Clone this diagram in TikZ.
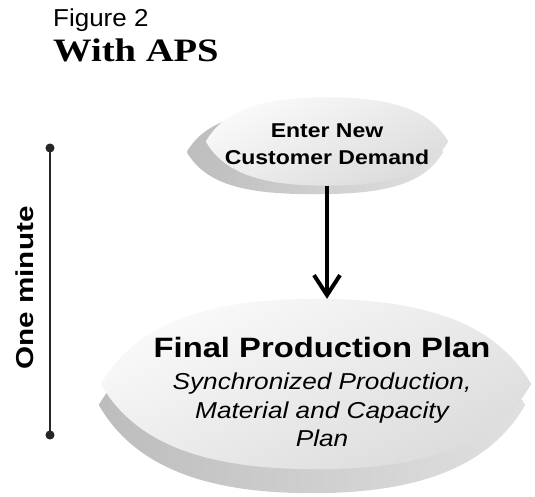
\documentclass[tikz,border=0pt]{standalone}
\usepackage{fontspec}
\setmainfont{Liberation Serif}
\setsansfont{Liberation Sans}
\usetikzlibrary{shapes.geometric,arrows.meta}

% lens shaped outline round a (disk) node
\newcommand{\lensof}[1]{(#1.west) to[out=60,in=180,out looseness=0.75,in looseness=1.25] (#1.north)
  to[out=0,in=120,out looseness=1.25,in looseness=0.75] (#1.east)
  to[out=-120,in=0,out looseness=0.75,in looseness=1.25] (#1.south)
  to[out=180,in=-60,out looseness=1.25,in looseness=0.75] (#1.west)}

\begin{document}
\begin{tikzpicture}[x=1pt,y=-1pt,
    disk/.style={ellipse, inner sep=0pt},
    face/.style={shading=axis, top color=gray!4, bottom color=gray!28, shading angle=25},
    rim/.style={shading=axis, left color=gray!52, right color=gray!24},
    wide/.style={transform shape, xscale=#1, inner sep=0pt}]
    \useasboundingbox (0,0) rectangle (535,497);

    % Heading
    \node[wide=1.06, anchor=base west, font=\sffamily\fontsize{24.5}{26}\selectfont] (figno) at (53,26.7) {Figure 2};
    \node[wide=1.18, anchor=base west, font=\bfseries\fontsize{32.7}{34}\selectfont] (title) at (53,61.7) {With APS};

    % Time scale on the left
    \coordinate (tstart) at (50,143.5);
    \coordinate (tend) at (50,439.5);
    \draw[black!85, line width=1.2pt, {Circle[length=9pt]}-{Circle[length=9pt]}] (tstart) -- (tend);
    \node[rotate=90, wide=1.21, anchor=base, font=\sffamily\bfseries\fontsize{24.5}{26}\selectfont] (span) at (33,288) {One minute};

    % Upper disk
    \node[disk, minimum width=256pt, minimum height=84pt] (demandrim) at (315,152) {};
    \node[disk, minimum width=242pt, minimum height=88pt] (demand) at (327,141.5) {};
    \shade[rim] \lensof{demandrim};
    \shade[face] \lensof{demand};
    \node[wide=1.15, anchor=north, align=center, font=\sffamily\bfseries\fontsize{20}{27}\selectfont] (demandtext) at (327,123.7) {Enter New\\Customer Demand};

    % Lower disk
    \node[disk, minimum width=426pt, minimum height=176pt] (planrim) at (312,405) {};
    \node[disk, minimum width=430pt, minimum height=170pt] (plan) at (316,384) {};
    \shade[rim] \lensof{planrim};
    \shade[face] \lensof{plan};
    \node[wide=1.17, anchor=base, font=\sffamily\bfseries\fontsize{28}{30}\selectfont] (plantitle) at (322,357) {Final Production Plan};
    \node[wide=1.14, anchor=north, align=center, font=\sffamily\itshape\fontsize{23}{28.5}\selectfont] (plantext) at (322,372.7) {Synchronized Production,\\Material and Capacity\\Plan};

    % Flow
    \draw[line width=3.5pt, -{Straight Barb[length=20pt,width=26pt,line width=4pt]}] (demand.south) -- (demand.south |- plan.north);
\end{tikzpicture}
\end{document}
